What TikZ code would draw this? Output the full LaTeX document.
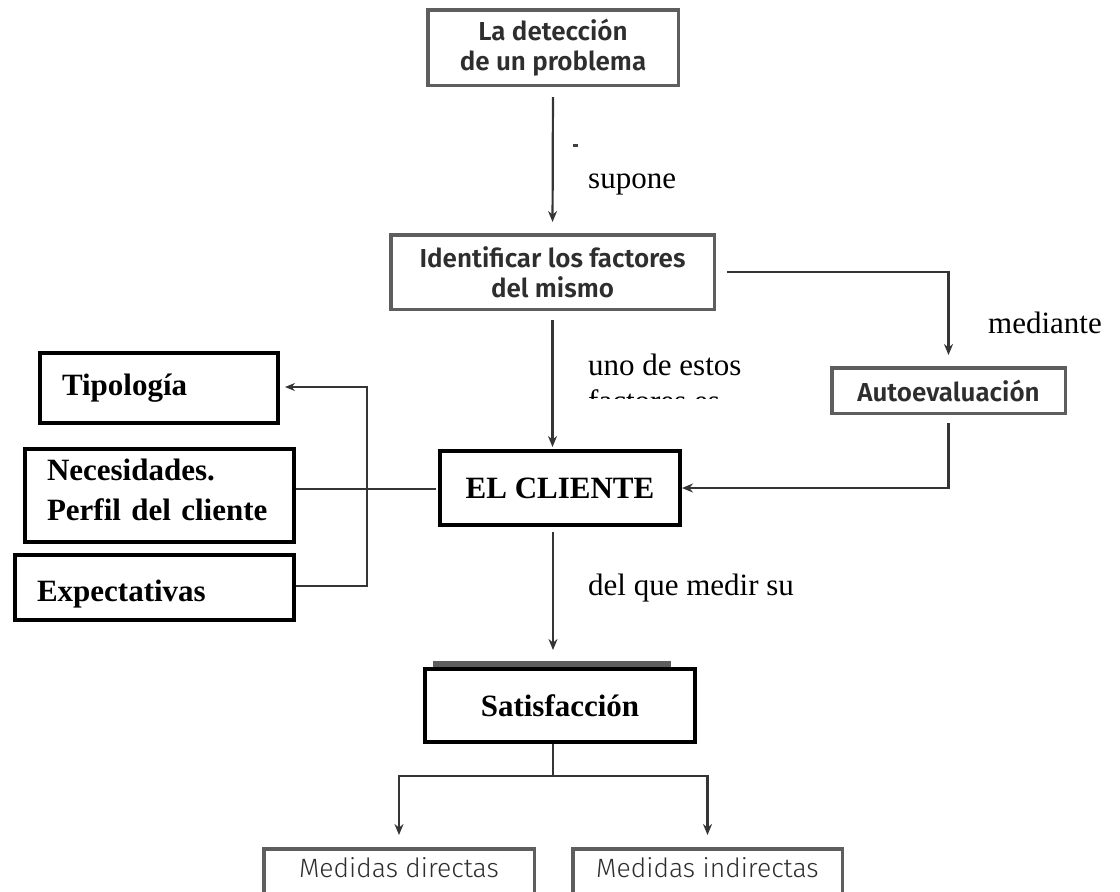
\documentclass[tikz,border=0pt]{standalone}
\usepackage{fontspec}
\setmainfont{Liberation Serif}
\newfontfamily\boxfont{Fira Sans}[UprightFont={* SemiBold}]
\newfontfamily\lightfont{Fira Sans}[UprightFont={* Light}]
\usetikzlibrary{arrows.meta}

\definecolor{boxgray}{HTML}{5E5E5E}
\definecolor{inkgray}{HTML}{2E2E2E}
\definecolor{linegray}{HTML}{353535}

\tikzset{
  greybox/.style={draw=boxgray, line width=3.5pt, fill=white, inner sep=0pt,
    align=center, text=inkgray, font=\boxfont\fontsize{26}{30}\selectfont},
  blackbox/.style={draw=black, line width=4pt, fill=white, inner sep=0pt,
    font=\bfseries\fontsize{31}{40}\selectfont},
  leftbox/.style={blackbox, align=left, inner xsep=22pt},
  measbox/.style={greybox, font=\lightfont\fontsize{26.5}{30}\selectfont,
    text height=28.75pt, text depth=27.5pt, inner ysep=0pt, anchor=north},
  lbl/.style={anchor=base west, inner sep=0pt, font=\fontsize{31}{36}\selectfont},
  flow/.style={draw=linegray, line width=2.2pt, -{Stealth[length=11pt,width=9pt]}},
  thinflow/.style={draw=linegray, line width=1.3pt},
  thinarrow/.style={thinflow, -{Stealth[length=10pt,width=8pt]}},
}

\begin{document}
\begin{tikzpicture}[x=1pt, y=-1pt]
  \useasboundingbox (0,0) rectangle (1120,892);
  \clip (0,0) rectangle (1120,892);

  % main chain of grey boxes
  \node[greybox, minimum width=250.5, minimum height=75.5] (detect) at (553,47.5)
    {La detección\\de un problema};
  \node[greybox, minimum width=323.5, minimum height=74.5] (ident) at (552.5,272)
    {Identificar los factores\\del mismo};
  \node[greybox, minimum width=233.5, minimum height=45.5] (auto) at (948.5,390.5)
    {Autoevaluación};

  % customer and its attributes
  \node[blackbox, minimum width=240, minimum height=74] (cliente) at (560,488) {EL CLIENTE};
  \node[leftbox, text width=194, minimum height=70] (tipo) at (159,388) {Tipología};
  \node[leftbox, text width=225, minimum height=93] (nec) at (159.5,495.5)
    {Necesidades.\\Perfil del cliente\rule[-12pt]{0pt}{0pt}};
  \node[leftbox, text width=235, minimum height=65] (exp) at (154.5,587.5)
    {\rule{0pt}{34pt}Expectativas};

  % satisfaction and its measures
  \fill[boxgray] (433,661) rectangle (671,667);
  \node[blackbox, minimum width=270, minimum height=73] (satis) at (560,705.5) {Satisfacción};
  \node[measbox, minimum width=270.5] (mdir) at (399,847) {Medidas directas};
  \node[measbox, minimum width=269.5] (mind) at (707.5,847) {Medidas indirectas};

  % connector labels
  \node[lbl] (supone) at (588,188) {supone};
  \node[lbl] (uno) at (588,375) {uno de estos};
  \begin{scope}
    \clip (560,380) rectangle (780,398);
    \node[lbl] (factores) at (588,411) {factores es};
  \end{scope}
  \node[lbl] (mediante) at (988,333) {mediante};
  \node[lbl] (delque) at (588,595) {del que medir su};
  \fill[black!75] (573,144) rectangle (578,146.5);

  % connectors
  \coordinate (hub) at (367,489);
  \coordinate (bustop) at (367,387);
  \coordinate (busbot) at (367,586);
  \coordinate (stem) at (553,776);

  \draw[flow, shorten <=10pt, shorten >=11pt] (detect.south) -- (ident.north);
  \draw[flow, shorten <=11pt, shorten >=11pt] (ident.east) -| (auto.north);
  \draw[flow, shorten <=8pt] (auto.south) |- (cliente.east);
  \draw[flow, shorten <=9pt, shorten >=2pt] (ident.south) -- (ident.south |- cliente.north);
  \draw[flow, shorten <=5pt, shorten >=17pt] (stem |- cliente.south) -- (stem |- satis.north);

  \draw[thinflow, shorten >=2pt] (nec.east |- hub) -- (hub) -- (hub -| cliente.west);
  \draw[thinarrow, shorten >=5pt] (exp.east |- busbot) -- (busbot) -- (bustop) -- (tipo.east |- bustop);

  \draw[draw=linegray, line width=2.2pt] (stem |- satis.south) -- (stem);
  \draw[flow, shorten >=12pt] (stem) -| (mdir.north);
  \draw[flow, shorten >=12pt] (stem) -| (mind.north);
\end{tikzpicture}
\end{document}
